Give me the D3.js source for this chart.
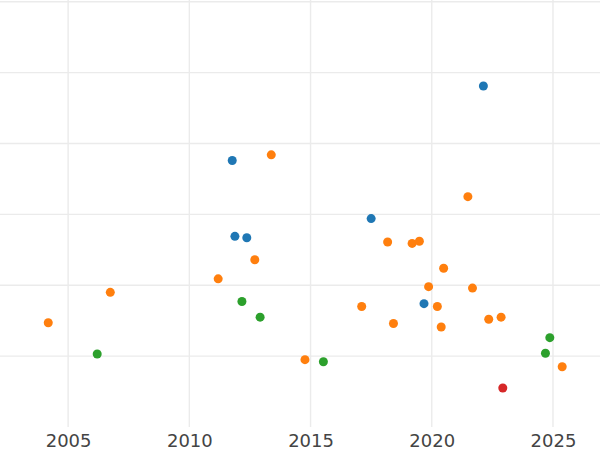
<!DOCTYPE html>
<html>
<head>
<meta charset="utf-8">
<script src="https://cdn.jsdelivr.net/npm/d3@7"></script>
<style>
  html, body { margin: 0; padding: 0; background: #fff; }
  svg { display: block; }
</style>
</head>
<body>
<svg id="chart" width="600" height="450"></svg>
<script>
// ---- data ----
const seriesNames = ["A", "B", "C", "D"];
const seriesColors = ["#1f77b4", "#ff7f0e", "#2ca02c", "#d62728"];

const blueYears  = [2022.13, 2011.77, 2017.50, 2011.88, 2012.37, 2019.68];
const blueValues = [3.81, 2.76, 1.94, 1.69, 1.67, 0.74];

const orangeYears  = [2013.38, 2021.49, 2018.18, 2019.19, 2019.49, 2012.70, 2020.49, 2011.19,
                      2006.74, 2019.87, 2021.68, 2017.11, 2020.23, 2004.18, 2018.42, 2020.39,
                      2022.35, 2022.86, 2014.77, 2025.38];
const orangeValues = [2.84, 2.25, 1.61, 1.59, 1.62, 1.36, 1.24, 1.09,
                      0.90, 0.98, 0.96, 0.70, 0.70, 0.47, 0.46, 0.41,
                      0.52, 0.55, -0.05, -0.15];

const greenYears  = [2012.17, 2012.92, 2024.87, 2006.20, 2015.53, 2024.69];
const greenValues = [0.77, 0.55, 0.26, 0.03, -0.08, 0.04];

const redYears  = [2022.93];
const redValues = [-0.45];

const xTicks = [2005, 2010, 2015, 2020, 2025];
const yTicks = [0, 1, 2, 3, 4, 5];

// ---- layout ----
const W = 600, plotBottom = 427, plotTop = 0;
const svg = d3.select("#chart");

const x = d3.scaleLinear().domain([2002.19, 2026.94]).range([0, W]);
const y = d3.scaleLinear().domain([-1.0, 5.024]).range([plotBottom, plotTop]);

// gridlines
const grid = svg.append("g").attr("class", "grid");
grid.selectAll("line.h").data(yTicks).join("line")
  .attr("class", "h")
  .attr("x1", 0).attr("x2", W)
  .attr("y1", d => y(d)).attr("y2", d => y(d))
  .attr("stroke", "#ebebeb").attr("stroke-width", 1.4);
grid.selectAll("line.v").data(xTicks).join("line")
  .attr("class", "v")
  .attr("y1", plotTop).attr("y2", plotBottom)
  .attr("x1", d => x(d)).attr("x2", d => x(d))
  .attr("stroke", "#ebebeb").attr("stroke-width", 1.4);

// x axis (labels only)
const xAxis = d3.axisBottom(x).tickValues(xTicks).tickFormat(d3.format("d")).tickSize(0).tickPadding(0);
const gx = svg.append("g").attr("transform", `translate(0,${plotBottom})`).call(xAxis);
gx.select(".domain").remove();
gx.selectAll("text")
  .attr("dy", null)
  .attr("y", 20)
  .attr("fill", "#444")
  .style("font-family", "'DejaVu Sans', sans-serif")
  .style("font-size", "18px");

// points
const series = [
  { name: seriesNames[0], color: seriesColors[0], xs: blueYears,   ys: blueValues },
  { name: seriesNames[1], color: seriesColors[1], xs: orangeYears, ys: orangeValues },
  { name: seriesNames[2], color: seriesColors[2], xs: greenYears,  ys: greenValues },
  { name: seriesNames[3], color: seriesColors[3], xs: redYears,    ys: redValues }
];

series.forEach(s => {
  const pts = s.xs.map((xv, i) => ({ x: xv, y: s.ys[i] }));
  svg.append("g").attr("class", "series-" + s.name)
    .selectAll("circle").data(pts).join("circle")
    .attr("cx", d => x(d.x))
    .attr("cy", d => y(d.y))
    .attr("r", 4.5)
    .attr("fill", s.color);
});
</script>
</body>
</html>
